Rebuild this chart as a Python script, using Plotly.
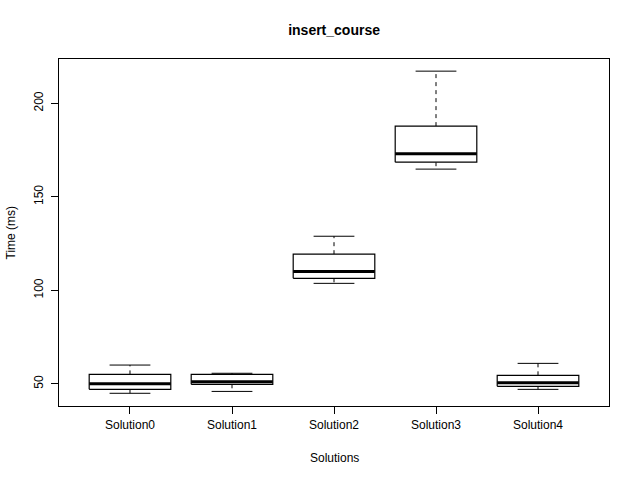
import plotly.graph_objects as go

categories = ["Solution0", "Solution1", "Solution2", "Solution3", "Solution4"]
lower = [44.9, 45.9, 103.7, 164.8, 47.0]
q1 = [47.0, 49.7, 106.4, 168.5, 48.6]
median = [50.0, 51.1, 110.0, 173.0, 50.5]
q3 = [55.0, 55.0, 119.3, 187.8, 54.5]
upper = [60.0, 55.6, 128.9, 217.2, 60.9]
y_ticks = [50, 100, 150, 200]

BOX_HALF = 0.4
CAP_HALF = 0.2
FONT = "Liberation Sans, Arial, sans-serif"

fig = go.Figure()
for i, name in enumerate(categories):
    x = i + 1
    # whiskers (dashed)
    fig.add_trace(go.Scatter(x=[x, x, None, x, x], y=[q3[i], upper[i], None, q1[i], lower[i]],
                             mode="lines", line=dict(color="black", width=1, dash="4px,4px"),
                             showlegend=False, hoverinfo="skip"))
    # caps
    fig.add_trace(go.Scatter(x=[x - CAP_HALF, x + CAP_HALF, None, x - CAP_HALF, x + CAP_HALF],
                             y=[upper[i], upper[i], None, lower[i], lower[i]],
                             mode="lines", line=dict(color="black", width=1),
                             showlegend=False, hoverinfo="skip"))
    # box
    fig.add_trace(go.Scatter(x=[x - BOX_HALF, x + BOX_HALF, x + BOX_HALF, x - BOX_HALF, x - BOX_HALF],
                             y=[q1[i], q1[i], q3[i], q3[i], q1[i]],
                             mode="lines", line=dict(color="black", width=1.2),
                             fill="toself", fillcolor="white",
                             showlegend=False, hoverinfo="skip"))
    # median
    fig.add_trace(go.Scatter(x=[x - BOX_HALF, x + BOX_HALF], y=[median[i], median[i]],
                             mode="lines", line=dict(color="black", width=3),
                             showlegend=False, hoverinfo="skip"))

fig.update_layout(
    width=640, height=480,
    margin=dict(l=59, r=31, t=59, b=74),
    paper_bgcolor="white", plot_bgcolor="white",
    font=dict(family=FONT, size=12, color="black"),
    title=dict(text="<b>insert_course</b>", x=0.522, xanchor="center", y=1 - 30 / 480, yanchor="middle",
               font=dict(size=14, family=FONT, color="black")),
    xaxis=dict(range=[0.304, 5.696], tickmode="array", tickvals=[1, 2, 3, 4, 5], ticktext=categories,
               showgrid=False, zeroline=False, showline=True, linecolor="black", linewidth=1.2,
               mirror=True, ticks="outside", ticklen=7, tickcolor="black", tickwidth=1,
               tickfont=dict(size=12, family=FONT)),
    yaxis=dict(range=[38.1, 223.7], tickmode="array", tickvals=y_ticks,
               showgrid=False, zeroline=False, showline=True, linecolor="black", linewidth=1.2,
               mirror=True, ticks="outside", ticklen=7, tickcolor="black", tickwidth=1,
               tickangle=-90, ticklabelstandoff=3, tickfont=dict(size=12, family=FONT)),
    annotations=[
        dict(text="Solutions", xref="paper", yref="paper", x=0.5, y=(406 - 457.7) / 347,
             xanchor="center", yanchor="middle", showarrow=False, font=dict(size=12, family=FONT)),
        dict(text="Time (ms)", xref="paper", yref="paper", x=(10 - 59) / 550, y=0.5,
             xanchor="center", yanchor="middle", textangle=-90, showarrow=False,
             font=dict(size=12, family=FONT)),
    ],
)

fig.write_html("out.html")
